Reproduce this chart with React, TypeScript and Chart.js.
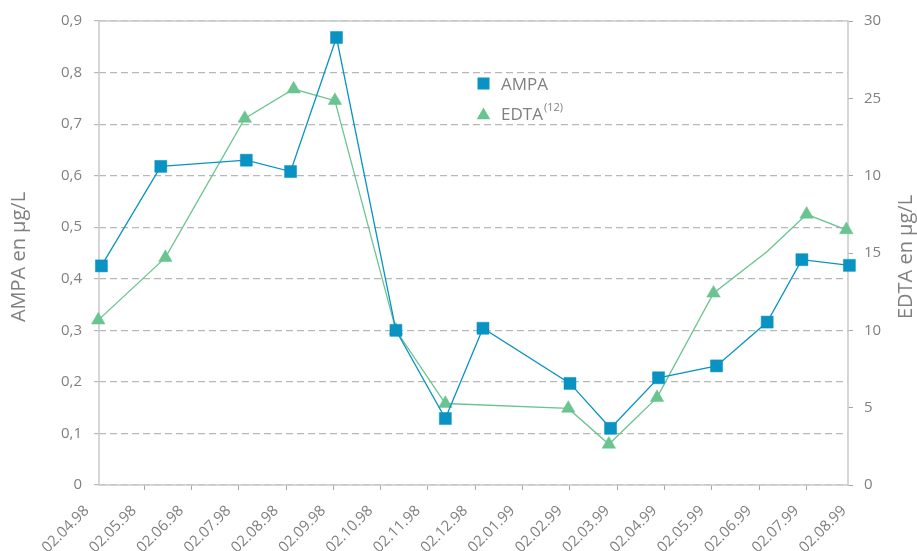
import React, { useEffect, useRef } from 'react';
import { Chart, registerables } from 'chart.js';

Chart.register(...registerables);

// ---- data ----
const X_TICK_LABELS = [
  '02.04.98', '02.05.98', '02.06.98', '02.07.98', '02.08.98', '02.09.98',
  '02.10.98', '02.11.98', '02.12.98', '02.01.99', '02.02.99', '02.03.99',
  '02.04.99', '02.05.99', '02.06.99', '02.07.99', '02.08.99',
];

const AMPA_DATES = [
  '05.04.98', '13.05.98', '07.07.98', '05.08.98', '04.09.98', '12.10.98',
  '13.11.98', '07.12.98', '02.02.99', '26.02.99', '29.03.99', '05.05.99',
  '07.06.99', '29.06.99', '30.07.99',
];
const AMPA_VALUES = [
  0.425, 0.618, 0.63, 0.608, 0.868, 0.3,
  0.129, 0.304, 0.197, 0.11, 0.208, 0.231,
  0.316, 0.437, 0.426,
];

const EDTA_DATES = [
  '03.04.98', '16.05.98', '06.07.98', '07.08.98', '03.09.98', '12.10.98',
  '13.11.98', '01.02.99', '25.02.99', '28.03.99', '03.05.99', '07.06.99',
  '02.07.99', '28.07.99',
];
const EDTA_VALUES = [
  10.66, 14.7, 23.7, 25.6, 24.85, 10.0,
  5.27, 4.95, 2.63, 5.65, 12.4, 15.1,
  17.5, 16.5,
];
const EDTA_DATES_WITHOUT_MARKER = ['07.06.99'];

const AMPA_TICK_LABELS = ['0', '0,1', '0,2', '0,3', '0,4', '0,5', '0,6', '0,7', '0,8', '0,9'];
const EDTA_TICK_LABELS = ['0', '5', '10', '15', '10', '25', '30'];

const SERIES_LABELS = ['AMPA', 'EDTA'];
const EDTA_LABEL_SUPERSCRIPT = '(12)';
const AXIS_TITLES = ['AMPA en µg/L', 'EDTA en µg/L'];

// ---- style ----
const FONT = '"Open Sans", "Liberation Sans", sans-serif';
const BLUE = '#0993c2';
const GREEN = '#69c48f';
const TEXT = '#808080';
const GRID = '#b8b8b8';
const FRAME = '#cccccc';

const X_MIN = 0.049;
const X_MAX = 15.874;

function monthIndex(d: string): number {
  const [dd, mm, yy] = d.split('.').map(Number);
  const year = 1900 + yy;
  const days = new Date(year, mm, 0).getDate();
  return (year - 1998) * 12 + (mm - 4) + (dd - 2) / days;
}

const decor = {
  id: 'decor',
  beforeDatasetsDraw(chart: any) {
    const { ctx, chartArea: a } = chart;
    ctx.save();
    ctx.strokeStyle = FRAME;
    ctx.lineWidth = 1.6;
    ctx.strokeRect(a.left, a.top, a.right - a.left, a.bottom - a.top);
    ctx.restore();
  },
  afterDraw(chart: any) {
    const { ctx, chartArea: a } = chart;
    const cy = (a.top + a.bottom) / 2 + 4;
    ctx.save();
    ctx.fillStyle = TEXT;
    ctx.font = `20px ${FONT}`;
    ctx.textAlign = 'center';
    ctx.textBaseline = 'middle';
    [[19, AXIS_TITLES[0]], [906, AXIS_TITLES[1]]].forEach(([x, t]) => {
      ctx.save();
      ctx.translate(x as number, cy);
      ctx.rotate(-Math.PI / 2);
      ctx.fillText(t as string, 0, 0);
      ctx.restore();
    });

    // legend
    const lx = 483.5;
    ctx.fillStyle = BLUE;
    ctx.fillRect(lx - 6, 83.5 - 6, 12, 12);
    ctx.fillStyle = GREEN;
    ctx.beginPath();
    ctx.moveTo(lx, 107.5);
    ctx.lineTo(lx + 6.8, 119.2);
    ctx.lineTo(lx - 6.8, 119.2);
    ctx.closePath();
    ctx.fill();

    ctx.fillStyle = TEXT;
    ctx.textAlign = 'left';
    ctx.textBaseline = 'alphabetic';
    ctx.font = `17px ${FONT}`;
    ctx.fillText(SERIES_LABELS[0], 501, 89.5);
    ctx.fillText(SERIES_LABELS[1], 501, 119.5);
    const w = ctx.measureText(SERIES_LABELS[1]).width;
    ctx.font = `11px ${FONT}`;
    ctx.fillText(EDTA_LABEL_SUPERSCRIPT, 501 + w + 1, 110.5);
    ctx.restore();
  },
};

export default function App() {
  const ref = useRef<HTMLCanvasElement>(null);

  useEffect(() => {
    document.body.style.margin = '0';
    const xMarkerless = EDTA_DATES_WITHOUT_MARKER.map(monthIndex);
    const chart = new Chart(ref.current!, {
      type: 'line',
      data: {
        datasets: [
          {
            label: SERIES_LABELS[0],
            data: AMPA_DATES.map((d, i) => ({ x: monthIndex(d), y: AMPA_VALUES[i] })),
            yAxisID: 'y',
            borderColor: BLUE,
            backgroundColor: BLUE,
            borderWidth: 1.3,
            pointStyle: 'rect',
            pointRadius: 8.5,
            pointBorderWidth: 0.5,
            pointBorderColor: BLUE,
            pointBackgroundColor: BLUE,
            tension: 0,
            clip: false,
          } as any,
          {
            label: SERIES_LABELS[1],
            data: EDTA_DATES.map((d, i) => ({ x: monthIndex(d), y: EDTA_VALUES[i] })),
            yAxisID: 'y1',
            borderColor: GREEN,
            backgroundColor: GREEN,
            borderWidth: 1.3,
            pointStyle: 'triangle',
            pointRadius: (c: any) =>
              xMarkerless.some((x) => Math.abs(x - c.raw?.x) < 1e-9) ? 0 : 7.8,
            pointBorderWidth: 0.5,
            pointBorderColor: GREEN,
            pointBackgroundColor: GREEN,
            tension: 0,
            clip: false,
          } as any,
        ],
      },
      options: {
        responsive: false,
        animation: false,
        events: [],
        layout: { padding: { top: 17, left: 0, right: 0, bottom: 0 } },
        plugins: { legend: { display: false }, tooltip: { enabled: false } },
        scales: {
          x: {
            type: 'linear',
            position: 'bottom',
            min: X_MIN,
            max: X_MAX,
            afterBuildTicks: (axis: any) => {
              axis.ticks = X_TICK_LABELS.map((l) => ({ value: monthIndex(l) }));
            },
            afterFit: (s: any) => {
              s.height = 66;
            },
            ticks: {
              autoSkip: false,
              minRotation: 45,
              maxRotation: 45,
              padding: 12,
              labelOffset: -10,
              color: TEXT,
              font: { family: FONT, size: 15 },
              callback: (_v: any, i: number) => X_TICK_LABELS[i],
            },
            grid: {
              drawOnChartArea: false,
              drawTicks: true,
              tickLength: 5,
              color: (c: any) =>
                c.tick && (c.tick.value < X_MIN || c.tick.value > X_MAX) ? 'rgba(0,0,0,0)' : '#a8a8a8',
            },
            border: { display: false },
          },
          y: {
            position: 'left',
            min: 0,
            max: 0.9,
            afterFit: (s: any) => {
              s.width = 99;
            },
            ticks: {
              stepSize: 0.1,
              padding: 12,
              color: TEXT,
              font: { family: FONT, size: 15 },
              callback: (_v: any, i: number) => AMPA_TICK_LABELS[i],
            },
            grid: {
              color: GRID,
              lineWidth: 1.2,
              tickLength: 5,
              tickColor: GRID,
            },
            border: { display: false, dash: [7, 4] },
          },
          y1: {
            position: 'right',
            min: 0,
            max: 30,
            afterFit: (s: any) => {
              s.width = 69;
            },
            ticks: {
              stepSize: 5,
              padding: 11,
              color: TEXT,
              font: { family: FONT, size: 15 },
              callback: (_v: any, i: number) => EDTA_TICK_LABELS[i],
            },
            grid: {
              drawOnChartArea: false,
              tickLength: 5,
              color: '#a8a8a8',
            },
            border: { display: false },
          },
        },
      } as any,
      plugins: [decor],
    });
    return () => chart.destroy();
  }, []);

  return (
    <div style={{ width: 917, height: 551 }}>
      <canvas ref={ref} width={917} height={551} style={{ display: 'block' }} />
    </div>
  );
}
